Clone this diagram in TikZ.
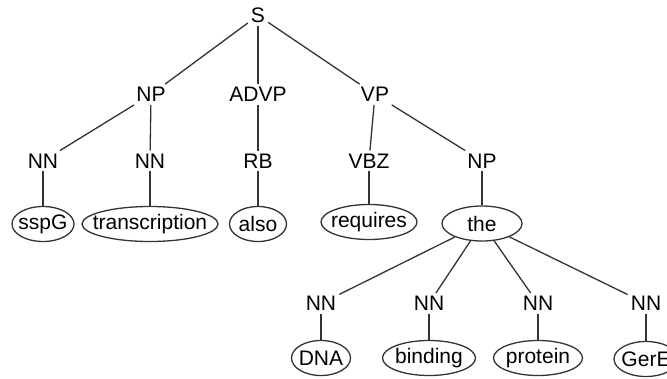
\documentclass[tikz,border=0pt]{standalone}
\usepackage{fontspec}
\setmainfont{Liberation Sans}
\usetikzlibrary{shapes.geometric}
\tikzset{
    tag/.style={font=\fontsize{21}{24}\selectfont, text=black, inner sep=3pt},
    word/.style={tag, draw=black!80, line width=1.3pt, ellipse, inner xsep=-40pt, inner ysep=0pt, minimum height=35pt},
    branch/.style={line width=1.3pt, black!80},
}
\begin{document}
\begin{tikzpicture}[x=1pt,y=-1pt]
    \useasboundingbox (0,0) rectangle (667,378);
    % phrase labels
    \node[tag] (s) at (258,15.5) {S};
    \node[tag] (np1) at (151,94.5) {NP};
    \node[tag] (advp) at (258,94.5) {ADVP};
    \node[tag] (vp) at (375,94.5) {VP};
    \node[tag] (nn1) at (43,161) {NN};
    \node[tag] (nn2) at (150,161) {NN};
    \node[tag] (rb) at (258,161) {RB};
    \node[tag] (vbz) at (369,161) {VBZ};
    \node[tag] (np2) at (482,161) {NP};
    \node[tag] (nn3) at (321,303.5) {NN};
    \node[tag] (nn4) at (429,303.5) {NN};
    \node[tag] (nn5) at (538,303.5) {NN};
    \node[tag] (nn6) at (646,303.5) {NN};
    % words
    \node[word, minimum width=62pt] (sspg) at (43,224) {sspG};
    \node[word, minimum width=136pt] (transcription) at (150,224) {transcription};
    \node[word, minimum width=57pt] (also) at (258,224) {also};
    \node[word, minimum width=96pt] (requires) at (369,222) {requires};
    \node[word, minimum width=80pt] (the) at (482,223.5) {the};
    \node[word, minimum width=59pt] (dna) at (321,358) {DNA};
    \node[word, minimum width=93pt] (binding) at (429,358) {binding};
    \node[word, minimum width=89pt] (protein) at (538,358) {protein};
    \node[word, minimum width=64pt] (gere) at (646,359) {GerE};
    % branches
    \foreach \a/\b in {s/np1, s/advp, s/vp, np1/nn1, np1/nn2, advp/rb, vp/vbz, vp/np2,
        nn1/sspg, nn2/transcription, rb/also, vbz/requires, np2/the,
        the/nn3, the/nn4, the/nn5, the/nn6, nn3/dna, nn4/binding, nn5/protein, nn6/gere}
        \draw[branch] (\a) -- (\b);
\end{tikzpicture}
\end{document}
